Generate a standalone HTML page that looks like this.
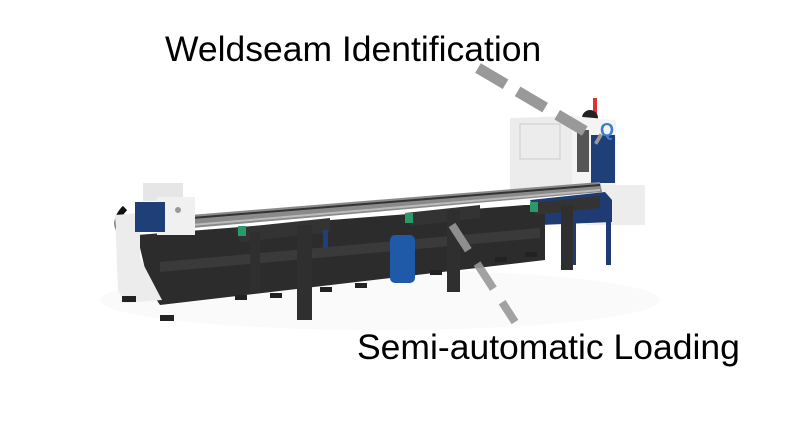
<!DOCTYPE html>
<html><head><style>
html,body{margin:0;padding:0;background:#fff;}
svg{display:block}
text{font-family:"Liberation Sans",sans-serif;fill:#000}
</style></head><body>
<svg width="800" height="428" viewBox="0 0 800 428" xmlns="http://www.w3.org/2000/svg">
<rect width="800" height="428" fill="#fff"/>
<ellipse cx="380" cy="300" rx="280" ry="30" fill="#fafafa"/>
<!-- right cabinet -->
<rect x="593" y="98" width="4" height="18" fill="#d33"/>
<circle cx="590" cy="118" r="8" fill="#222"/>
<polygon points="510,118 572,116 572,190 510,192" fill="#ececec"/>
<rect x="520" y="124" width="40" height="35" fill="none" stroke="#ccc"/>
<polygon points="572,116 616,120 616,188 572,190" fill="#f4f4f4"/>
<rect x="577" y="130" width="12" height="42" fill="#555"/>
<rect x="591" y="135" width="24" height="48" fill="#1e3f78"/>
<text x="600" y="136" font-size="18" font-weight="bold" style="fill:#3a7fd0">Q</text>
<rect x="585" y="185" width="60" height="40" fill="#ededed"/>
<!-- blue table right -->
<polygon points="530,200 605,192 612,200 612,222 540,225" fill="#1f3b73"/>
<rect x="570" y="215" width="6" height="50" fill="#1f3b73"/>
<rect x="606" y="215" width="5" height="50" fill="#1f3b73"/>
<!-- rails -->
<polygon points="190,215 600,182 602,192 192,228" fill="#8a8a8a"/>
<line x1="192" y1="218" x2="600" y2="185" stroke="#333" stroke-width="2"/>
<line x1="192" y1="225" x2="600" y2="190" stroke="#bbb" stroke-width="2"/>
<!-- dark bed -->
<polygon points="137,235 525,205 545,205 545,260 160,305 150,290" fill="#2c2c2c"/>
<polygon points="160,262 540,228 540,238 160,272" fill="#3a3a3a"/>
<!-- left chuck -->
<path d="M125,208 q-15,15 0,32" stroke="#111" stroke-width="6" fill="none"/>
<polygon points="115,215 140,213 140,258 162,300 125,303 118,290" fill="#ececec"/>
<rect x="143" y="183" width="40" height="18" fill="#e6e6e6"/>
<rect x="157" y="197" width="38" height="38" fill="#f0f0f0"/>
<rect x="135" y="202" width="30" height="30" fill="#1e3f78"/>
<circle cx="178" cy="210" r="3" fill="#999"/>
<!-- feet -->
<g fill="#222">
<rect x="122" y="296" width="14" height="6"/><rect x="160" y="315" width="14" height="6"/>
<rect x="235" y="295" width="12" height="5"/><rect x="270" y="293" width="12" height="5"/>
<rect x="320" y="287" width="12" height="5"/><rect x="355" y="283" width="12" height="5"/>
<rect x="395" y="278" width="12" height="5"/><rect x="430" y="270" width="12" height="5"/>
<rect x="495" y="257" width="12" height="5"/><rect x="525" y="252" width="12" height="5"/>
</g>
<!-- support frames -->
<polygon points="235,228 330,218 330,232 240,242" fill="#333"/>
<rect x="297" y="225" width="15" height="95" fill="#2f2f2f"/>
<rect x="250" y="232" width="10" height="60" fill="#2f2f2f"/>
<rect x="238" y="226" width="8" height="10" fill="#2a9a6a"/>
<polygon points="405,213 480,205 480,218 410,226" fill="#333"/>
<rect x="447" y="210" width="13" height="82" fill="#2f2f2f"/>
<rect x="405" y="213" width="8" height="10" fill="#2a9a6a"/>
<polygon points="530,203 600,196 600,208 535,215" fill="#333"/>
<rect x="561" y="205" width="12" height="65" fill="#2f2f2f"/>
<rect x="530" y="202" width="8" height="10" fill="#2a9a6a"/>
<rect x="323" y="230" width="5" height="18" fill="#1e3f78"/>
<!-- blue motor -->
<rect x="390" y="235" width="25" height="48" rx="5" fill="#1f5aa8"/>
<!-- dashed connectors -->
<line x1="478" y1="68" x2="600" y2="140" stroke="#999" stroke-width="11" stroke-dasharray="32,14"/>
<line x1="452" y1="225" x2="515" y2="322" stroke="#999" stroke-width="8" stroke-dasharray="30,16" opacity="0.9"/>
<text x="165" y="61" font-size="35.5">Weldseam Identification</text>
<text x="357" y="359" font-size="35.5">Semi-automatic Loading</text>
</svg>
</body></html>
